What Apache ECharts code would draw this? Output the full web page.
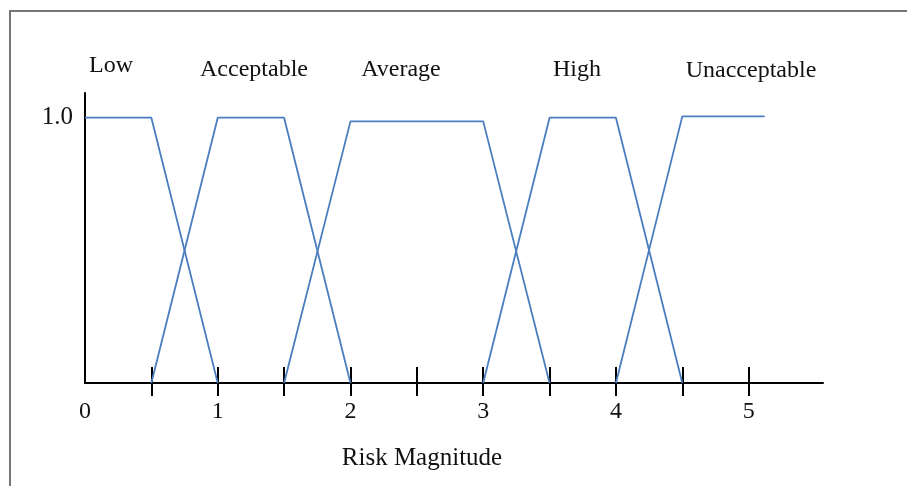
<!DOCTYPE html>
<html>
<head>
<meta charset="utf-8">
<script src="https://cdn.jsdelivr.net/npm/echarts@6/dist/echarts.min.js"></script>
<style>
  html, body { margin: 0; padding: 0; background: #fff; }
  #chart { width: 907px; height: 486px; }
</style>
</head>
<body>
<div id="chart"></div>
<script>
// Trapezoidal membership functions for each risk level: [magnitude, membership]
const low = [[0, 1], [0.5, 1], [1, 0]];
const acceptable = [[0.5, 0], [1, 1], [1.5, 1], [2, 0]];
const average = [[1.5, 0], [2, 0.986], [3, 0.986], [3.5, 0]];
const high = [[3, 0], [3.5, 1], [4, 1], [4.5, 0]];
const unacceptable = [[4, 0], [4.5, 1.005], [5.12, 1.005]];

const levelNames = ['Low', 'Acceptable', 'Average', 'High', 'Unacceptable'];
const xTicks = [0.5, 1, 1.5, 2, 2.5, 3, 3.5, 4, 4.5, 5];
const xLabels = [0, 1, 2, 3, 4, 5];
const yLabels = [1.0];

const serif = '"Liberation Serif", "Times New Roman", serif';
const lineColor = '#4a7ebf';

const chart = echarts.init(document.getElementById('chart'));

const seriesData = [low, acceptable, average, high, unacceptable];
const series = seriesData.map((d, i) => ({
  name: levelNames[i],
  type: 'line',
  data: d,
  symbol: 'none',
  silent: true,
  lineStyle: { color: lineColor, width: 1.8 },
  z: 3
}));

// Level names above the curves, and the x axis title
const levelTextPos = [[111, 66], [254, 70], [401, 70], [577, 70], [751, 71]];
const graphics = [
  {
    type: 'rect',
    shape: { x: 10, y: 11, width: 1000, height: 1000 },
    style: { fill: 'none', stroke: '#777', lineWidth: 2 },
    silent: true
  }
].concat(levelNames.map((n, i) => ({
  type: 'text',
  x: levelTextPos[i][0],
  y: levelTextPos[i][1],
  style: {
    text: n, fill: '#111', font: '24px ' + serif,
    align: 'center', verticalAlign: 'middle'
  }
}))).concat([{
  type: 'text',
  x: 422, y: 458,
  style: {
    text: 'Risk Magnitude', fill: '#111', font: '25px ' + serif,
    align: 'center', verticalAlign: 'middle'
  }
}]);

chart.setOption({
  animation: false,
  backgroundColor: '#fff',
  grid: { left: 85, right: 84, top: 93, bottom: 103 },
  xAxis: [
    {
      type: 'value', min: 0, max: 5.56,
      axisLine: { show: true, lineStyle: { color: '#000', width: 2 } },
      axisTick: { show: true, inside: false, length: 13, customValues: xTicks,
                  lineStyle: { color: '#000', width: 2 } },
      axisLabel: {
        show: true, customValues: xLabels, margin: 17,
        color: '#111', fontFamily: serif, fontSize: 24
      },
      splitLine: { show: false }
    },
    {
      type: 'value', min: 0, max: 5.56, position: 'bottom', offset: 0,
      axisLine: { show: false },
      axisTick: { show: true, inside: true, length: 16, customValues: xTicks,
                  lineStyle: { color: '#000', width: 2 } },
      axisLabel: { show: false },
      splitLine: { show: false }
    }
  ],
  yAxis: {
    type: 'value', min: 0, max: 1.093,
    axisLine: { show: true, lineStyle: { color: '#000', width: 2 } },
    axisTick: { show: false },
    axisLabel: {
      show: true, customValues: yLabels, margin: 12,
      formatter: v => v.toFixed(1),
      color: '#111', fontFamily: serif, fontSize: 25
    },
    splitLine: { show: false }
  },
  series: series,
  graphic: graphics
});
</script>
</body>
</html>
